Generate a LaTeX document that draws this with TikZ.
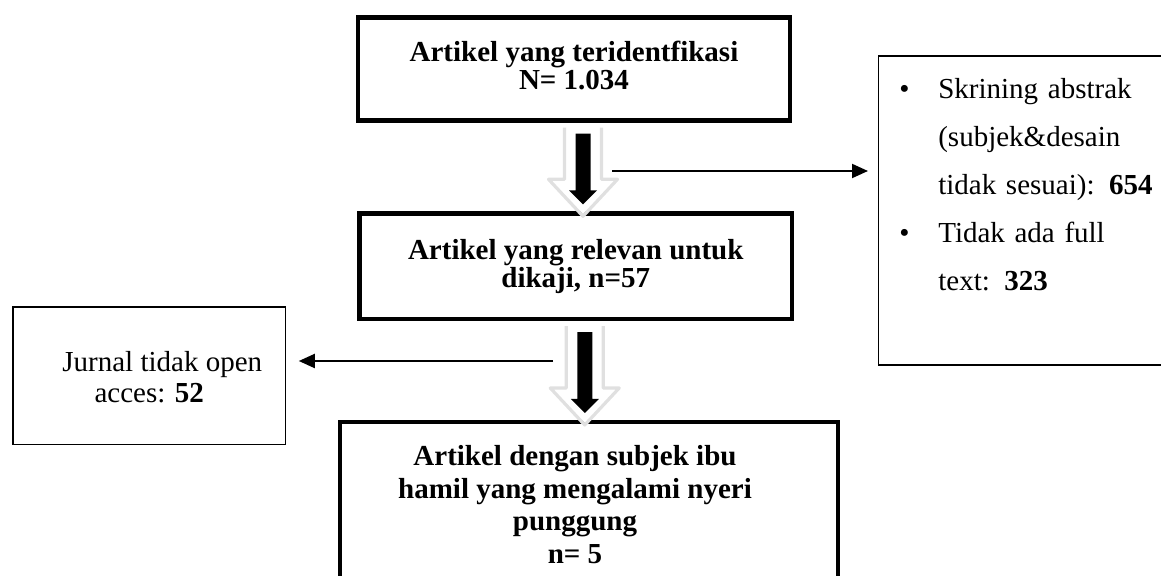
\documentclass[tikz,border=0pt]{standalone}
\usepackage{fontspec}
\setmainfont{Liberation Serif}
\usetikzlibrary{arrows.meta,calc}
\setlength{\lineskiplimit}{-20pt}

\tikzset{
  flowbox/.style={draw, line width=2.2pt, align=center, inner sep=0pt,
    font=\bfseries\fontsize{14.5}{14}\selectfont},
  sidebox/.style={draw, line width=0.8pt, inner sep=0pt,
    font=\fontsize{14.5}{15.5}\selectfont},
  thinarrow/.style={-{Triangle[length=8pt,width=7pt]}, line width=1pt},
}

\begin{document}
\begin{tikzpicture}[x=0.5pt, y=-0.5pt]
        \useasboundingbox (0,0) rectangle (1161,576);
        \clip (0,0) rectangle (1161,576);
        \def\bullw{19.5pt}
        \def\pad{\rule{14pt}{0pt}}

        %Flow boxes
        \node[flowbox, minimum width=216pt, minimum height=51.5pt] (art) at (574,69)
            {Artikel yang teridentfikasi\\N= 1.034\rule[-3.5pt]{0pt}{3.5pt}};
        \node[flowbox, minimum width=216.25pt, minimum height=52.75pt] (rel) at (575.75,266.25)
            {Artikel yang relevan untuk\\dikaji, n=57};
        \node[flowbox, anchor=north, minimum width=249pt, inner ysep=11.5pt,
            font=\bfseries\fontsize{14.5}{16.4}\selectfont] (sel) at (589,420)
            {Artikel dengan subjek ibu\pad\\hamil yang mengalami nyeri\pad\\punggung\pad\\n= 5\pad\rule[-10pt]{0pt}{10pt}};

        %Side boxes
        \node[sidebox, align=center, minimum width=136.25pt, minimum height=68.75pt] (excl) at (149.25,375.75)
            {\rule{0pt}{11.9pt}\hspace*{13pt}Jurnal tidak open\\acces: \textbf{52}};
        \node[sidebox, anchor=north west, align=left, text width=135pt, inner xsep=10.5pt, inner ysep=11.5pt,
            font=\fontsize{14.5}{24}\selectfont] (note) at (877.5,55)
            {\mbox{\makebox[\bullw][l]{\textbullet}Skrining abstrak}\\
             \mbox{\hspace*{\bullw}(subjek\&desain}\\
             \mbox{\hspace*{\bullw}tidak sesuai): \textbf{654}}\\
             \mbox{\makebox[\bullw][l]{\textbullet}Tidak ada full}\\
             \mbox{\hspace*{\bullw}text: \textbf{323}}\rule[-25.5pt]{0pt}{25.5pt}};

        %Block arrows
        \foreach \from/\to in {art/rel, rel/sel}{
            \coordinate (top) at ($(\from.south)+(9,0)$);
            \coordinate (end) at (top |- \to.north);
            \fill[white] ($(top)+(-17.5,4)$) -- ($(end)+(-17.5,-31)$) -- ($(end)+(-32.5,-31)$)
                -- ($(end)+(0,3)$) -- ($(end)+(32.5,-31)$) -- ($(end)+(17.5,-31)$) -- ($(top)+(17.5,4)$) -- cycle;
            \draw[black!12, line width=1.6pt, line join=round] ($(top)+(-18.5,5)$) -- ($(end)+(-18.5,-32)$) -- ($(end)+(-34.5,-32)$)
                -- ($(end)+(0,5)$) -- ($(end)+(34.5,-32)$) -- ($(end)+(18.5,-32)$) -- ($(top)+(18.5,5)$);
            \fill[black] ($(top)+(-7.5,11)$) -- ($(end)+(-7.5,-21)$) -- ($(end)+(-14,-21)$)
                -- ($(end)+(0,-7)$) -- ($(end)+(14,-21)$) -- ($(end)+(7.5,-21)$) -- ($(top)+(7.5,11)$) -- cycle;
        }

        %Excluded
        \coordinate (s1) at (612,171);
        \draw[thinarrow, shorten >=4.75pt] (s1) -- (s1 -| note.west);
        \coordinate (s2) at (553,361);
        \draw[thinarrow, shorten >=6.25pt] (s2) -- (s2 -| excl.east);
\end{tikzpicture}
\end{document}
